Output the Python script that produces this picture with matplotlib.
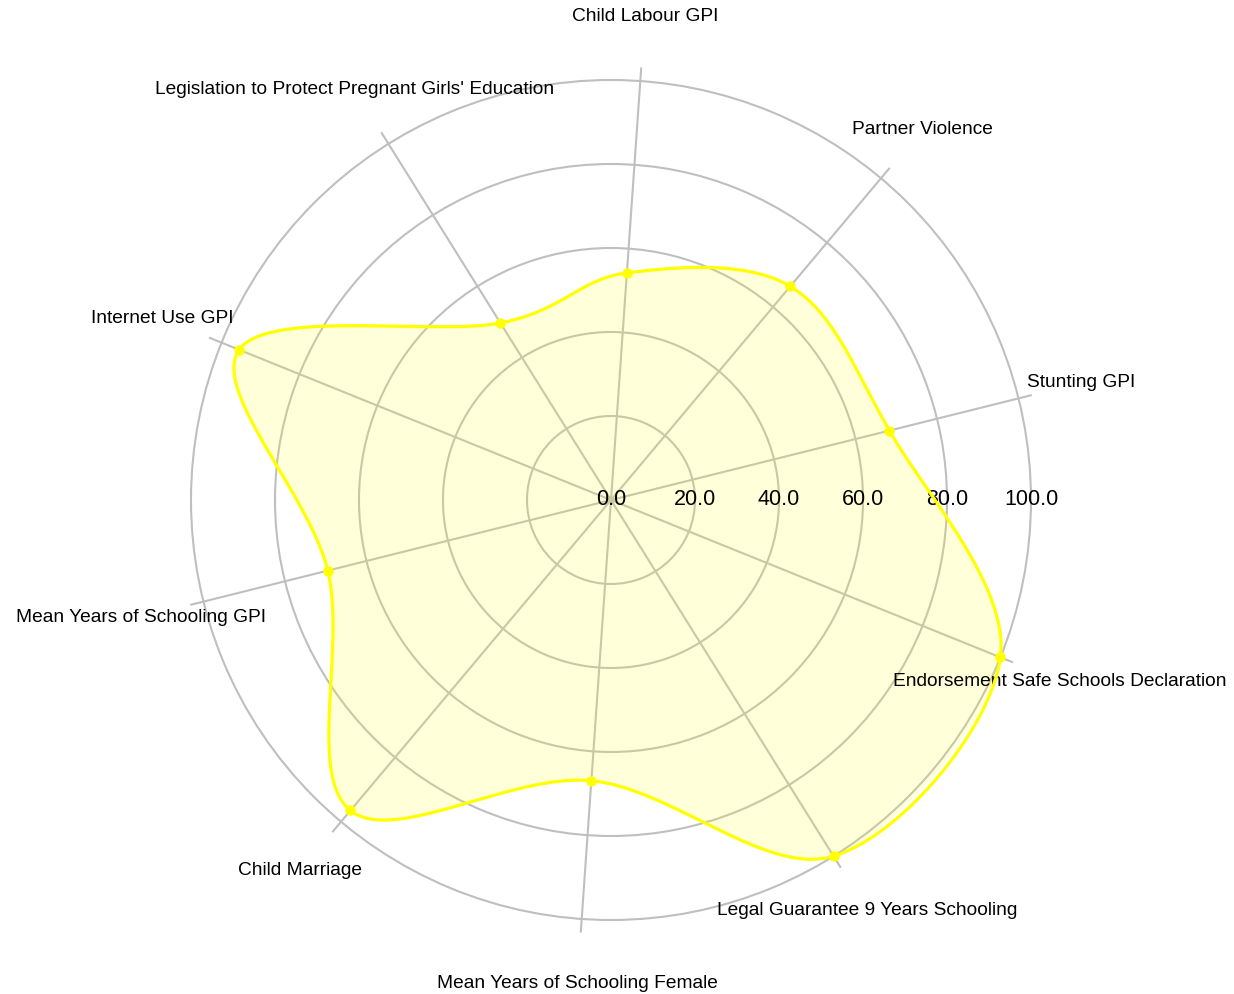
import numpy as np
import matplotlib
matplotlib.use("Agg")
import matplotlib.pyplot as plt

categories = ["Stunting GPI", "Partner Violence", "Child Labour GPI",
              "Legislation to Protect Pregnant Girls' Education", "Internet Use GPI",
              "Mean Years of Schooling GPI", "Child Marriage",
              "Mean Years of Schooling Female", "Legal Guarantee 9 Years Schooling",
              "Endorsement Safe Schools Declaration"]
values = [68.3, 66.4, 54.2, 49.7, 95.5, 69.5, 96.5, 67.0, 100.0, 100.0]
r_ticks = [0, 20, 40, 60, 80, 100]
r_tick_labels = ["0.0", "20.0", "40.0", "60.0", "80.0", "100.0"]

plt.rcParams['font.family'] = ['Liberation Sans', 'DejaVu Sans']

W, H = 1234, 994
fig = plt.figure(figsize=(W / 100, H / 100), dpi=100)
rmax = 101.0
cx, cy = 611, 500
R = 420 * rmax / 100.0
ax = fig.add_axes([(cx - R) / W, (H - cy - R) / H, 2 * R / W, 2 * R / H], projection='polar')

n = len(categories)
start = np.deg2rad(14)
theta = start + np.arange(n) * 2 * np.pi / n

ax.set_ylim(0, rmax)
ax.set_yticks(r_ticks[1:])
ax.set_yticklabels([])
ax.set_xticks([])
ax.yaxis.grid(True, color='#bfbfbf', linewidth=1.5)
ax.xaxis.grid(False)
ax.spines['polar'].set_visible(False)
ax.set_facecolor('none')

# spokes
for t in theta:
    ax.plot([t, t], [0, 103], color='#bfbfbf', linewidth=1.5, clip_on=False, zorder=1)

# closed Catmull-Rom spline in cartesian space
v = np.array(values)
px = v * np.cos(theta)
py = v * np.sin(theta)
xs, ys = [], []
steps = 60
for i in range(n):
    p0 = np.array([px[(i - 1) % n], py[(i - 1) % n]])
    p1 = np.array([px[i], py[i]])
    p2 = np.array([px[(i + 1) % n], py[(i + 1) % n]])
    p3 = np.array([px[(i + 2) % n], py[(i + 2) % n]])
    for s in np.linspace(0, 1, steps, endpoint=False):
        s2, s3 = s * s, s * s * s
        pt = 0.5 * ((2 * p1) + (-p0 + p2) * s + (2 * p0 - 5 * p1 + 4 * p2 - p3) * s2
                    + (-p0 + 3 * p1 - 3 * p2 + p3) * s3)
        xs.append(pt[0]); ys.append(pt[1])
xs.append(xs[0]); ys.append(ys[0])
xs, ys = np.array(xs), np.array(ys)
st = np.unwrap(np.arctan2(ys, xs))
sr = np.hypot(xs, ys)

ax.fill(st, sr, color='#ffff00', alpha=0.15, zorder=2, linewidth=0)
ax.plot(st, sr, color='#ffff00', linewidth=2.3, zorder=5, clip_on=False)
ax.plot(theta, values, 'o', color='#ffff00', markersize=6.5, zorder=6, clip_on=False)

for r, lab in zip(r_ticks, r_tick_labels):
    ax.text(0, r, lab, ha='center', va='center', fontsize=15.5, color='black', zorder=3)

for t, lab in zip(theta, categories):
    ax.text(t, 115.3, lab, ha='center', va='center', fontsize=13.8, color='black', zorder=3)

fig.savefig('out.png', dpi=100, facecolor='white')
